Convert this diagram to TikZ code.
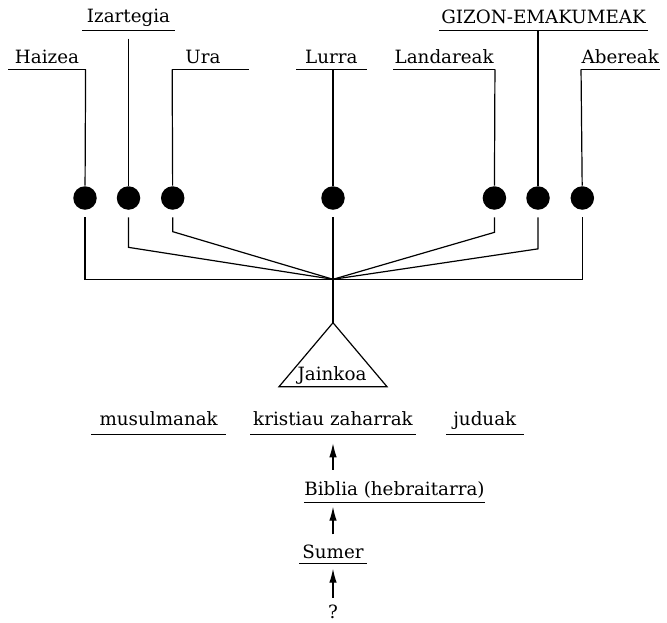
\documentclass[tikz,border=0pt]{standalone}
\usepackage{fontspec}
\setmainfont{DejaVu Serif}
\usetikzlibrary{arrows.meta}

\tikzset{
  ul/.style={anchor=south, inner sep=0pt, text height=13pt, text depth=#1},
  ul/.default=5pt,
  dot/.style={circle, fill=black, inner sep=0pt, minimum size=23.5pt},
  up/.style={-{Latex[length=14pt,width=7.5pt]}},
}

\begin{document}
\begin{tikzpicture}[x=1pt, y=-1pt, line width=1.2pt, font=\fontsize{18.3}{20}\selectfont]
  \useasboundingbox (0,0) rectangle (667,622);

  % upper labels
  \node[ul=7.4pt, minimum width=91pt] (izartegia) at (128.5,30.7) {Izartegia};
  \node[ul=7pt, minimum width=207pt] (gizon) at (543.5,30.7) {GIZON-EMAKUMEAK};
  \node[ul, minimum width=76pt] (haizea) at (47,69.3) {Haizea};
  \node[ul, minimum width=75.3pt] (ura) at (210.4,69.3) {\hspace*{-14.8pt}Ura};
  \node[ul, minimum width=69.3pt] (lurra) at (331.3,69.3) {Lurra};
  \node[ul, minimum width=100.3pt] (landareak) at (444.2,69.3) {Landareak};
  \node[ul, minimum width=76pt] (abereak) at (620.3,69.3) {Abereak};

  % dots
  \node[dot] (c1) at (85,198) {};
  \node[dot] (c2) at (128.5,198) {};
  \node[dot] (c3) at (172.7,198) {};
  \node[dot] (c4) at (333,198) {};
  \node[dot] (c5) at (494.4,198) {};
  \node[dot] (c6) at (538,198) {};
  \node[dot] (c7) at (582.3,198) {};

  \coordinate (j) at (333,279.3);
  \coordinate (apex) at (333,322.7);

  % lower labels
  \node[ul=9pt, minimum width=134pt] (musulmanak) at (158.7,434.8) {musulmanak};
  \node[ul=9pt, minimum width=164pt] (kristiau) at (333,434.8) {kristiau zaharrak};
  \node[ul=9pt, minimum width=76.3pt] (juduak) at (484.8,434.8) {juduak};
  \node[ul=6.7pt, minimum width=179pt] (biblia) at (394.5,502.7) {Biblia (hebraitarra)};
  \node[ul=4.4pt, minimum width=66pt] (sumer) at (333,563.7) {Sumer};
  \node[anchor=base, inner sep=0pt] (q) at (333,618) {?};

  \foreach \n in {izartegia,gizon,haizea,ura,lurra,landareak,abereak,
                  musulmanak,kristiau,juduak,biblia,sumer}
    \draw (\n.south west) -- (\n.south east);

  % into the dots
  \draw (haizea.south east) -- (c1);
  \draw ([yshift=-8pt]izartegia.south) -- (c2);
  \draw (ura.south west) -- (c3);
  \draw (lurra.south -| c4) -- (c4);
  \draw (landareak.south east) -- (c5);
  \draw (gizon.south -| c6) -- (c6);
  \draw (abereak.south west) -- (c7);

  % down to the triangle
  \draw ([yshift=-7pt]c1.south) -- (c1 |- j) -- (c7 |- j) -- ([yshift=-7pt]c7.south);
  \draw ([yshift=-7pt]c2.south) -- ++(0,30) -- (j);
  \draw ([yshift=-7pt]c3.south) -- ++(0,14.3) -- (j);
  \draw ([yshift=-7pt]c5.south) -- ++(0,15) -- (j);
  \draw ([yshift=-7pt]c6.south) -- ++(0,31.5) -- (j);
  \draw ([yshift=-7pt]c4.south) -- (j) -- (apex);

  \draw (apex) -- ++(-54,64) -- ++(108,0) -- cycle;
  \node[anchor=base, inner sep=0pt] (jainkoa) at (332,380) {Jainkoa};

  % arrows
  \draw[up, shorten <=12pt, shorten >=8.5pt] (biblia.north -| kristiau.south) -- (kristiau.south);
  \draw[up, shorten <=10.7pt, shorten >=4pt] (sumer.north) -- (biblia.south -| sumer.north);
  \draw[up, shorten <=6pt, shorten >=5pt] (q.north) -- (sumer.south);
\end{tikzpicture}
\end{document}
